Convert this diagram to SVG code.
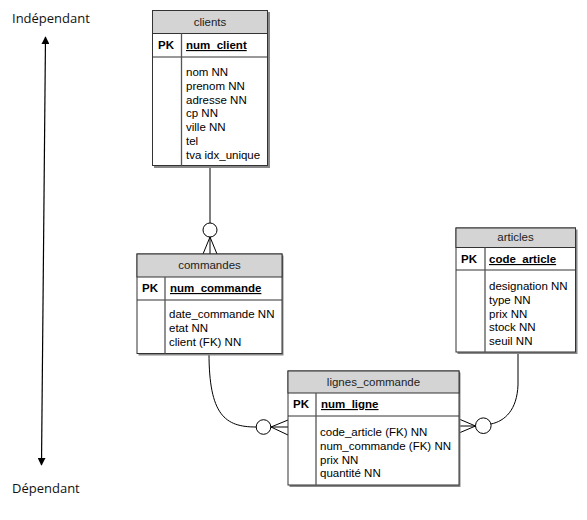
<svg xmlns="http://www.w3.org/2000/svg" width="587" height="520" viewBox="0 0 587 520">
<defs>
<marker id="arr" viewBox="0 0 10 10" refX="9" refY="5" markerWidth="8" markerHeight="8" orient="auto-start-reverse" markerUnits="userSpaceOnUse">
<path d="M0,0 L10,5 L0,10 z" fill="#000"/>
</marker>
</defs>
<style>
.box{fill:#fff;stroke:#333;stroke-width:1}
.sh{fill:#888}
.hdr{fill:#d4d4d4;stroke:#333;stroke-width:1}
.div{stroke:#555;stroke-width:1.3}
.ln{stroke:#333;stroke-width:1}
text{font-family:"Liberation Sans",Arial,sans-serif;font-size:11.5px;fill:#000}
.h{text-anchor:middle;fill:#222}
.pk{font-weight:bold}
.key{font-weight:bold;text-decoration:underline}
.side{font-family:"Open Sans","Noto Sans",sans-serif;font-size:13px;fill:#111}
.c{fill:none;stroke:#000;stroke-width:1}
</style>
<rect width="587" height="520" fill="#fff"/>

<g id="axis">
<line x1="45.5" y1="37" x2="41.5" y2="465" stroke="#000" stroke-width="1.2" marker-start="url(#arr)" marker-end="url(#arr)"/>
<text class="side" x="12" y="23">Indépendant</text>
<text class="side" x="12" y="493">Dépendant</text>
</g>

<g id="connectors">
<line class="c" x1="210" y1="166" x2="210" y2="223"/>
<circle class="c" cx="210" cy="230" r="7" fill="#fff"/>
<path class="c" d="M210,237 L203,254 M210,237 L210,254 M210,237 L217,254"/>
<path class="c" d="M209,353 C209,415 225,427 256,427"/>
<circle class="c" cx="263.5" cy="427" r="7.3" fill="#fff"/>
<path class="c" d="M271,427 L288,420 M271,427 L288,427 M271,427 L288,435"/>
<path class="c" d="M518,352 L518,385 C517,410 505,421 491,424"/>
<circle class="c" cx="483.3" cy="425.7" r="7.8" fill="#fff"/>
<path class="c" d="M475.5,426 L459,419 M475.5,426 L459,426 M475.5,426 L459,433"/>
</g>

<g id="clients">
<rect class="sh" x="154" y="12" width="116" height="156"/>
<rect class="box" x="152.5" y="10.5" width="115" height="155"/>
<rect class="hdr" x="152.5" y="10.5" width="115" height="23"/>
<line class="ln" x1="152.5" y1="57" x2="267.5" y2="57"/>
<line class="div" x1="181.5" y1="33.5" x2="181.5" y2="165.5"/>
<text class="h" x="210" y="26">clients</text>
<text class="pk" x="158" y="49">PK</text>
<text class="key" x="186" y="49">num_client</text>
<text x="186" y="76">nom NN</text>
<text x="186" y="89.8">prenom NN</text>
<text x="186" y="103.6">adresse NN</text>
<text x="186" y="117.4">cp NN</text>
<text x="186" y="131.2">ville NN</text>
<text x="186" y="145">tel</text>
<text x="186" y="158.8">tva idx_unique</text>
</g>

<g id="commandes">
<rect class="sh" x="138.5" y="255.5" width="145" height="100"/>
<rect class="box" x="137" y="254" width="145" height="99.5"/>
<rect class="hdr" x="137" y="254" width="145" height="23"/>
<line class="ln" x1="137" y1="300" x2="282" y2="300"/>
<line class="div" x1="165" y1="277" x2="165" y2="353.5"/>
<text class="h" x="209.5" y="269">commandes</text>
<text class="pk" x="142" y="292">PK</text>
<text class="key" x="170" y="292">num_commande</text>
<text x="169" y="318">date_commande NN</text>
<text x="169" y="331.8">etat NN</text>
<text x="169" y="345.6">client (FK) NN</text>
</g>

<g id="articles">
<rect class="sh" x="457.5" y="229.5" width="120" height="124.5"/>
<rect class="box" x="456" y="228" width="119.5" height="124"/>
<rect class="hdr" x="456" y="228" width="119.5" height="19.5"/>
<line class="ln" x1="456" y1="270" x2="575.5" y2="270"/>
<line class="div" x1="485" y1="247.5" x2="485" y2="352"/>
<text class="h" x="515.5" y="241">articles</text>
<text class="pk" x="461" y="263">PK</text>
<text class="key" x="489" y="263">code_article</text>
<text x="489" y="290">designation NN</text>
<text x="489" y="303.8">type NN</text>
<text x="489" y="317.6">prix NN</text>
<text x="489" y="331.4">stock NN</text>
<text x="489" y="345.2">seuil NN</text>
</g>

<g id="lignes_commande">
<rect class="sh" x="289.5" y="372.5" width="171" height="114.5"/>
<rect class="box" x="288" y="371" width="171" height="114"/>
<rect class="hdr" x="288" y="371" width="171" height="22"/>
<line class="ln" x1="288" y1="416" x2="459" y2="416"/>
<line class="div" x1="316" y1="393" x2="316" y2="485"/>
<text class="h" x="373.5" y="386">lignes_commande</text>
<text class="pk" x="293" y="408">PK</text>
<text class="key" x="321" y="408">num_ligne</text>
<text x="320" y="436">code_article (FK) NN</text>
<text x="320" y="449.8">num_commande (FK) NN</text>
<text x="320" y="463.6">prix NN</text>
<text x="320" y="477.4">quantité NN</text>
</g>
</svg>
